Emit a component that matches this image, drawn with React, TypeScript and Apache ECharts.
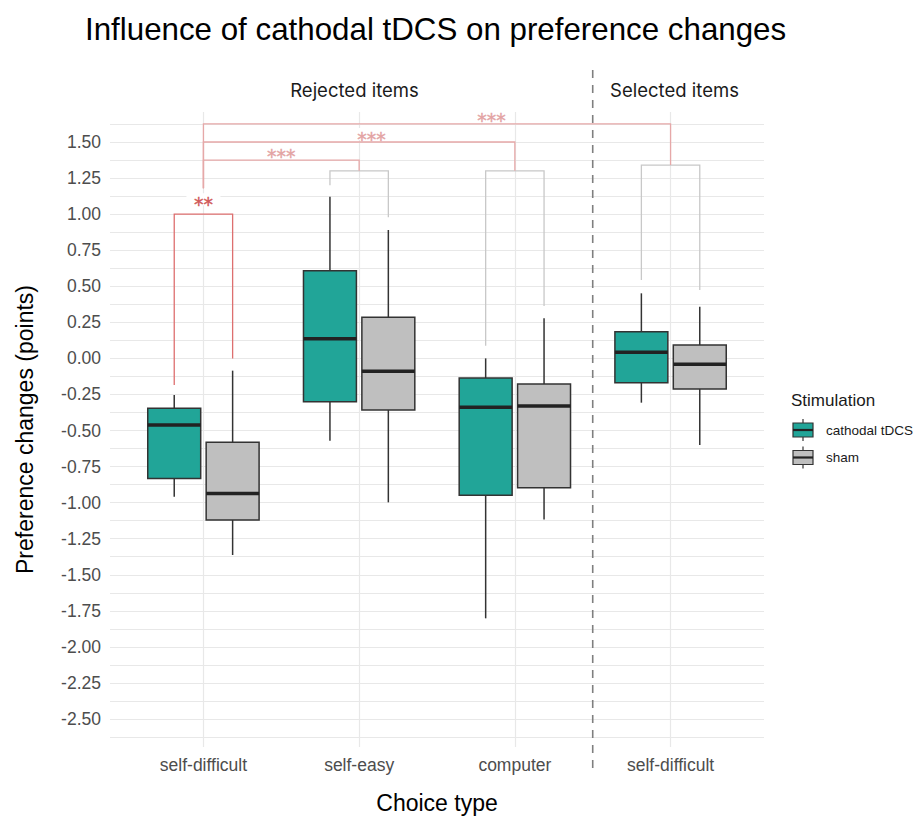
import React, { useEffect, useRef } from 'react';
import * as echarts from 'echarts';

const categories = ['self-difficult', 'self-easy', 'computer', 'self-difficult'];
const groupNames = ['cathodal tDCS', 'sham'];
const facetLabels = ['Rejected items', 'Selected items'];

// box stats per category: [min, q1, median, q3, max]
const cathodalStats = [
  [-0.959, -0.832, -0.462, -0.346, -0.254],
  [-0.571, -0.3, 0.136, 0.608, 1.121],
  [-1.802, -0.949, -0.339, -0.136, 0.0],
  [-0.307, -0.169, 0.042, 0.185, 0.451],
];
const shamStats = [
  [-1.363, -1.12, -0.936, -0.582, -0.085],
  [-0.998, -0.358, -0.09, 0.285, 0.89],
  [-1.117, -0.896, -0.33, -0.178, 0.278],
  [-0.6, -0.212, -0.041, 0.093, 0.358],
];

const yTicks = [1.5, 1.25, 1.0, 0.75, 0.5, 0.25, 0.0, -0.25, -0.5, -0.75, -1.0, -1.25, -1.5, -1.75, -2.0, -2.25, -2.5];

// within-condition comparisons (cathodal vs sham)
const pairTop = [1.0, 1.3, 1.3, 1.34];
const pairLeftEnd = [-0.185, 1.2, 0.088, 0.543];
const pairRightEnd = [0.0, 0.978, 0.363, 0.474];
const pairLabels = ['**', '', '', ''];
const pairLabelY = [1.103, 0, 0, 0];

// between-condition comparisons (from self-difficult)
const crossFrom = 1;
const crossTo = [2, 3, 4];
const crossTop = [1.375, 1.5, 1.625];
const crossLeftEnd = [1.18, 1.18, 1.18];
const crossLabels = ['***', '***', '***'];
const crossLabelX = [1.5, 2.08, 2.85];
const crossLabelY = [1.44, 1.555, 1.685];

const separatorX = 3.5;

const DODGE = 0.1875;
const BOX_W = 0.34;
const FILLS = ['#21a598', '#bfbfbf'];
const FONT = '"Liberation Sans", Arial, sans-serif';

function boxSeries(name: string, stats: number[][], idx: number) {
  const offset = idx === 0 ? -DODGE : DODGE;
  return {
    type: 'custom',
    name,
    silent: true,
    data: stats.map((s, i) => [i + 1, ...s]),
    encode: { x: 0, y: [1, 2, 3, 4, 5] },
    renderItem: (params: any, api: any) => {
      const x = api.value(0) + offset;
      const pMin = api.coord([x, api.value(1)]);
      const pQ1 = api.coord([x, api.value(2)]);
      const pMed = api.coord([x, api.value(3)]);
      const pQ3 = api.coord([x, api.value(4)]);
      const pMax = api.coord([x, api.value(5)]);
      const w = api.size([BOX_W, 0])[0];
      const cx = pMed[0];
      const lineStyle = { stroke: '#333333', lineWidth: 1.5 };
      return {
        type: 'group',
        children: [
          { type: 'line', shape: { x1: cx, y1: pQ3[1], x2: cx, y2: pMax[1] }, style: lineStyle },
          { type: 'line', shape: { x1: cx, y1: pQ1[1], x2: cx, y2: pMin[1] }, style: lineStyle },
          {
            type: 'rect',
            shape: { x: cx - w / 2, y: pQ3[1], width: w, height: pQ1[1] - pQ3[1] },
            style: { fill: FILLS[idx], stroke: '#333333', lineWidth: 1.5 },
          },
          {
            type: 'line',
            shape: { x1: cx - w / 2, y1: pMed[1], x2: cx + w / 2, y2: pMed[1] },
            style: { stroke: '#222222', lineWidth: 3.5 },
          },
        ],
      };
    },
  };
}

function bracketItem(api: any, color: string, textColor: string, fontSize: number, label: string) {
  const pLeftBottom = api.coord([api.value(0), api.value(3)]);
  const pLeftTop = api.coord([api.value(0), api.value(2)]);
  const pRightTop = api.coord([api.value(1), api.value(2)]);
  const pRightBottom = api.coord([api.value(1), api.value(4)]);
  const children: any[] = [
    {
      type: 'polyline',
      shape: { points: [pLeftBottom, pLeftTop, pRightTop, pRightBottom] },
      style: { stroke: color, lineWidth: 1.3, fill: 'none' },
    },
  ];
  if (label) {
    const pl = api.coord([api.value(5), api.value(6)]);
    children.push({
      type: 'rect',
      shape: { x: pl[0] - label.length * 5 - 7, y: pl[1] - 6, width: label.length * 10 + 14, height: 12 },
      style: { fill: '#ffffff' },
    });
    children.push({
      type: 'text',
      x: pl[0],
      y: pl[1] + 5,
      style: {
        text: label,
        fill: textColor,
        font: `${fontSize}px "DejaVu Sans", sans-serif`,
        align: 'center',
        verticalAlign: 'middle',
        stroke: textColor,
        lineWidth: 0.4,
      },
    });
  }
  return { type: 'group', children };
}

export default function App() {
  const ref = useRef<HTMLDivElement>(null);

  useEffect(() => {
    document.body.style.margin = '0';
    if (!ref.current) return;
    const chart = echarts.init(ref.current, null, { renderer: 'svg' });

    const minorTicks: number[] = [];
    for (let i = 0; i < yTicks.length; i++) {
      minorTicks.push(yTicks[i]);
      if (i < yTicks.length - 1) minorTicks.push((yTicks[i] + yTicks[i + 1]) / 2);
    }
    minorTicks.unshift(yTicks[0] + (yTicks[0] - yTicks[1]) / 2);
    minorTicks.push(yTicks[yTicks.length - 1] - (yTicks[0] - yTicks[1]) / 2);

    const xPositions = categories.map((_, i) => i + 1);

    const pairData = pairTop.map((t, i) => [
      i + 1 - DODGE,
      i + 1 + DODGE,
      t,
      pairLeftEnd[i],
      pairRightEnd[i],
      i + 1,
      pairLabelY[i],
    ]);
    const crossData = crossTo.map((to, i) => [
      crossFrom,
      to,
      crossTop[i],
      crossLeftEnd[i],
      pairTop[to - 1],
      crossLabelX[i],
      crossLabelY[i],
    ]);

    const legendChildren: any[] = [
      {
        type: 'text',
        x: 791,
        y: 400,
        style: { text: 'Stimulation', font: `17px ${FONT}`, fill: '#1a1a1a', verticalAlign: 'middle' },
      },
    ];
    groupNames.forEach((name, k) => {
      const cy = 430 + k * 27.5;
      legendChildren.push(
        { type: 'line', shape: { x1: 803, y1: cy - 11, x2: 803, y2: cy + 11 }, style: { stroke: '#333333', lineWidth: 1.2 } },
        { type: 'rect', shape: { x: 793, y: cy - 7, width: 20, height: 14 }, style: { fill: FILLS[k], stroke: '#333333', lineWidth: 1.2 } },
        { type: 'line', shape: { x1: 793, y1: cy, x2: 813, y2: cy }, style: { stroke: '#222222', lineWidth: 2.2 } },
        {
          type: 'text',
          x: 826,
          y: cy,
          style: { text: name, font: `13.5px ${FONT}`, fill: '#1a1a1a', verticalAlign: 'middle' },
        }
      );
    });

    chart.setOption({
      animation: false,
      backgroundColor: '#ffffff',
      title: {
        text: 'Influence of cathodal tDCS on preference changes',
        left: 80,
        top: 9,
        textStyle: { fontFamily: FONT, fontSize: 31.3, fontWeight: 'normal', color: '#000000' },
      },
      grid: { left: 110, right: 151, top: 112, bottom: 69, containLabel: false, outerBoundsMode: 'none' },
      xAxis: {
        type: 'value',
        min: 0.4,
        max: 4.6,
        name: 'Choice type',
        nameLocation: 'middle',
        nameGap: 44,
        nameTextStyle: { fontFamily: FONT, fontSize: 23, color: '#000000' },
        axisLine: { show: false },
        axisTick: { show: false, customValues: xPositions },
        axisLabel: {
          customValues: xPositions,
          formatter: (v: number) => categories[Math.round(v) - 1] ?? '',
          fontFamily: FONT,
          fontSize: 17.5,
          color: '#4d4d4d',
          margin: 9,
        },
        splitLine: { show: true, lineStyle: { color: '#e8e8e8', width: 1.2 } },
      },
      yAxis: {
        type: 'value',
        min: -2.694,
        max: 1.708,
        name: 'Preference changes (points)',
        nameLocation: 'middle',
        nameGap: 74,
        nameRotate: 90,
        nameTextStyle: { fontFamily: FONT, fontSize: 23, color: '#000000' },
        axisLine: { show: false },
        axisTick: { show: false, customValues: minorTicks },
        axisLabel: {
          customValues: yTicks,
          formatter: (v: number) => v.toFixed(2),
          fontFamily: FONT,
          fontSize: 17.5,
          color: '#4d4d4d',
          margin: 9,
        },
        splitLine: { show: true, lineStyle: { color: '#e8e8e8', width: 1.1 } },
      },
      graphic: [
        {
          type: 'text',
          x: 354.5,
          y: 90,
          style: { text: facetLabels[0], font: '18.5px Inter, sans-serif', fill: '#1a1a1a', align: 'center', verticalAlign: 'middle' },
        },
        {
          type: 'text',
          x: 674.5,
          y: 90,
          style: { text: facetLabels[1], font: '18.5px Inter, sans-serif', fill: '#1a1a1a', align: 'center', verticalAlign: 'middle' },
        },
        { type: 'group', children: legendChildren },
      ],
      series: [
        {
          type: 'custom',
          silent: true,
          data: [[separatorX]],
          encode: { x: 0 },
          renderItem: (params: any, api: any) => {
            const cs = params.coordSys;
            const px = api.coord([api.value(0), 0])[0];
            return {
              type: 'line',
              shape: { x1: px, y1: cs.y - 42, x2: px, y2: cs.y + cs.height + 25 },
              style: { stroke: '#7f7f7f', lineWidth: 1.6, lineDash: [8, 7] },
            };
          },
        },
        boxSeries(groupNames[0], cathodalStats, 0),
        boxSeries(groupNames[1], shamStats, 1),
        {
          type: 'custom',
          silent: true,
          data: pairData,
          encode: { x: [0, 1], y: [2, 3, 4] },
          renderItem: (params: any, api: any) => {
            const label = pairLabels[params.dataIndex];
            const sig = label !== '';
            return bracketItem(api, sig ? '#dd6f6f' : '#c8c8c8', '#d05858', 19, label);
          },
        },
        {
          type: 'custom',
          silent: true,
          data: crossData,
          encode: { x: [0, 1], y: [2, 3, 4] },
          renderItem: (params: any, api: any) =>
            bracketItem(api, '#e6a8a8', '#e3a3a3', 19, crossLabels[params.dataIndex]),
        },
      ],
    });

    return () => chart.dispose();
  }, []);

  return <div ref={ref} style={{ width: 915, height: 816 }} />;
}
